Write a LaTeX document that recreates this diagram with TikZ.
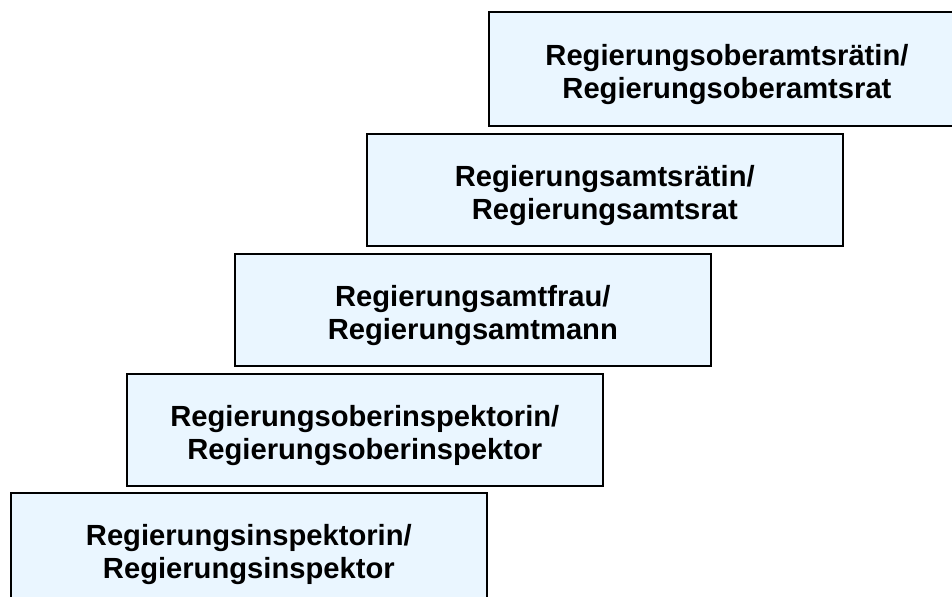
\documentclass[tikz,border=0pt]{standalone}
\usepackage{fontspec}
\setmainfont{Liberation Sans}
\usepackage{xcolor}
\definecolor{stufe}{RGB}{234,246,255}
\tikzset{rang/.style={draw=black,line width=1pt,fill=stufe,anchor=north west,
  minimum width=9.52cm,minimum height=2.24cm,inner sep=0pt},
  titel/.style={inner sep=0pt,align=center,
  font=\fontsize{16.6}{18.7}\selectfont\bfseries}}

\begin{document}
\begin{tikzpicture}[x=0.02cm,y=-0.02cm]
\useasboundingbox (0,0) rectangle (952,597);
\clip (0,0) rectangle (952,597);
% Stufen von unten nach oben
\node[rang] (r1) at (10,492) {};
\node[rang] (r2) at (126,373) {};
\node[rang] (r3) at (234,253) {};
\node[rang] (r4) at (366,133) {};
% oberste Stufe laeuft rechts aus dem Bild
\node[rang,draw=none,minimum width=10.5cm] (r5) at (489,12) {};
\draw[line width=1pt] (r5.north east) -- (r5.north west) -- (r5.south west) -- (r5.south east);

\node[titel] (t1) at ([yshift=-0.11cm]r1.center) {Regierungsinspektorin/\\Regierungsinspektor};
\node[titel] (t2) at ([yshift=-0.11cm]r2.center) {Regierungsoberinspektorin/\\Regierungsoberinspektor};
\node[titel] (t3) at ([yshift=-0.11cm]r3.center) {Regierungsamtfrau/\\Regierungsamtmann};
\node[titel] (t4) at ([yshift=-0.11cm]r4.center) {Regierungsamtsrätin/\\Regierungsamtsrat};
\node[titel] (t5) at ([xshift=4.76cm,yshift=-0.11cm]r5.west) {Regierungsoberamtsrätin/\\Regierungsoberamtsrat};
\end{tikzpicture}
\end{document}
